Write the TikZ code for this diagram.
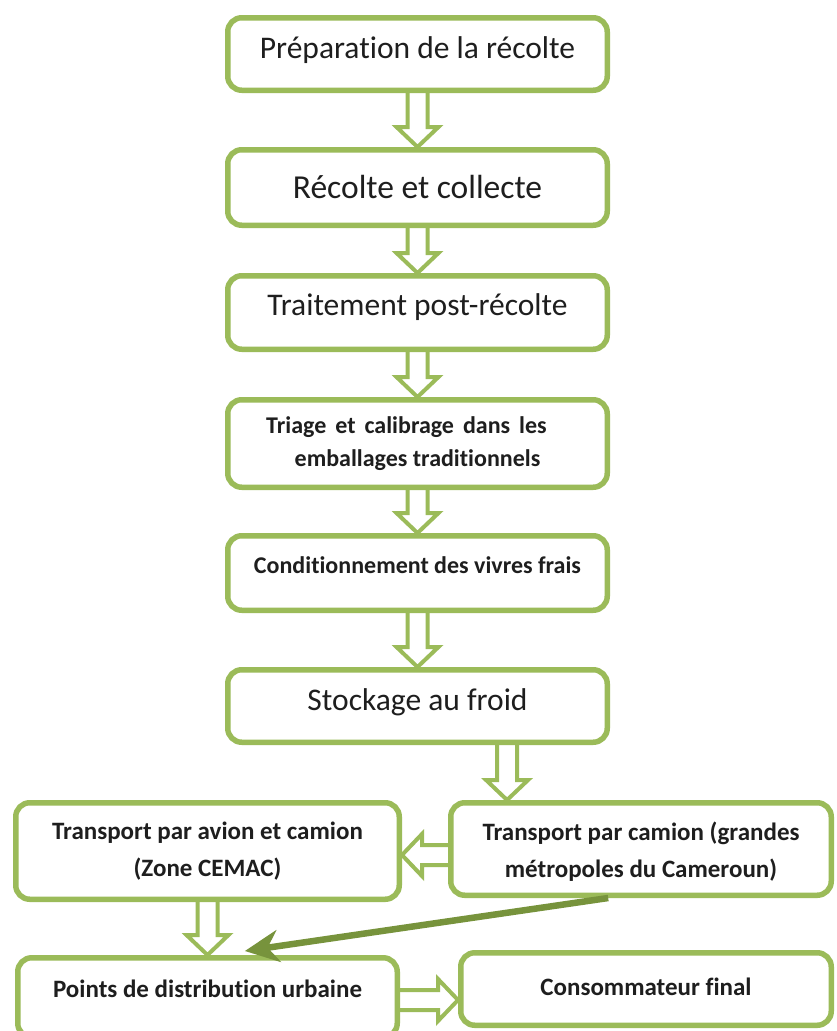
\documentclass[tikz,border=0pt]{standalone}
\usepackage{fontspec}
\setmainfont{Carlito}[Ligatures=NoCommon]
\usetikzlibrary{calc,arrows.meta,backgrounds}
\definecolor{boxgreen}{HTML}{9BBB59}
\definecolor{darkgreen}{HTML}{77933C}
\definecolor{txtcol}{HTML}{1E1E1E}
\newcommand{\wsp}{\hspace{9pt}}
\tikzset{
  box/.style={draw=boxgreen, line width=5.5pt, rounded corners=14pt, fill=white, inner sep=0pt},
  bigtxt/.style={text=txtcol, font=\fontsize{31.5pt}{38pt}\selectfont},
  boldtxt/.style={text=txtcol, align=center, font=\bfseries\fontsize{24pt}{33pt}\selectfont},
  bottxt/.style={text=txtcol, align=center, font=\bfseries\fontsize{25pt}{37pt}\selectfont},
  barrow/.style={draw=boxgreen, line width=4pt, fill=white, line join=miter, miter limit=10,
    to path={let \p1=(\tikztostart), \p2=(\tikztotarget),
      \n1={atan2(\y2-\y1,\x2-\x1)}, \n2={veclen(\x2-\x1,\y2-\y1)} in
      ([shift={(\p1)},rotate=\n1]-6pt,10pt) -- ([shift={(\p1)},rotate=\n1]\n2-20pt,10pt)
      -- ([shift={(\p1)},rotate=\n1]\n2-20pt,21pt) -- (\p2)
      -- ([shift={(\p1)},rotate=\n1]\n2-20pt,-21pt) -- ([shift={(\p1)},rotate=\n1]\n2-20pt,-10pt)
      -- ([shift={(\p1)},rotate=\n1]-6pt,-10pt) -- cycle}},
  linearrow/.style={draw=darkgreen, line width=6.5pt, -{Stealth[length=34pt,width=32pt,inset=11pt]}}
}
\begin{document}
\begin{tikzpicture}[x=1pt,y=-1pt]
\useasboundingbox (0,0) rectangle (836,1031);

% main column
\node[box, minimum width=379.5pt, minimum height=72.5pt,
  label={[bigtxt, yshift=4pt]center:Préparation de la récolte}] (b1) at (417.5,54) {};
\node[box, minimum width=379.5pt, minimum height=75.5pt,
  label={[bigtxt, font=\fontsize{33.5pt}{40pt}\selectfont, yshift=0.5pt]center:Récolte et collecte}] (b2) at (417.5,187.5) {};
\node[box, minimum width=379.5pt, minimum height=73.5pt,
  label={[bigtxt, yshift=5.5pt]center:Traitement post-récolte}] (b3) at (417.5,312.5) {};
\node[box, minimum width=379.5pt, minimum height=87.5pt,
  label={[boldtxt]center:{Triage\wsp et\wsp calibrage\wsp dans\wsp les\hspace*{22pt}\\emballages traditionnels}}] (b4) at (417.5,443.5) {};
\node[box, minimum width=379.5pt, minimum height=74.5pt,
  label={[boldtxt, yshift=8pt]center:Conditionnement des vivres frais}] (b5) at (417.5,573) {};
\node[box, minimum width=379.5pt, minimum height=72.5pt,
  label={[bigtxt, yshift=4pt]center:Stockage au froid}] (b6) at (417.5,706) {};

% lower part
\node[box, minimum width=380.5pt, minimum height=92.5pt,
  label={[bottxt, yshift=-2.5pt]center:{Transport par camion (grandes\\métropoles du Cameroun)}}] (b7) at (641,849) {};
\node[box, minimum width=383.5pt, minimum height=96.5pt,
  label={[bottxt]center:{Transport par avion et camion\\(Zone CEMAC)}}] (b8) at (207.5,851) {};
\node[box, minimum width=379.5pt, minimum height=79.5pt,
  label={[bottxt, yshift=8.5pt]center:Points de distribution urbaine}] (b9) at (207.5,997.5) {};
\node[box, minimum width=370.5pt, minimum height=72.5pt,
  label={[bottxt, yshift=2pt]center:Consommateur final}] (b10) at (646,989) {};

% helper coordinates on the boxes
\coordinate (t67) at ($(b7.north west)!0.153!(b7.north east)$);
\coordinate (s78) at ([yshift=-6pt]b7.west);
\coordinate (s910) at ([yshift=-2.5pt]b9.east);
\coordinate (s79) at ($(b7.south west)!0.415!(b7.south east)$);
\coordinate (t79) at ([yshift=4pt]$(b9.north west)!0.597!(b9.north east)$);

\begin{scope}[on background layer]
  \draw[barrow] (b1.south) to (b2.north);
  \draw[barrow] (b2.south) to (b3.north);
  \draw[barrow] (b3.south) to (b4.north);
  \draw[barrow] (b4.south) to (b5.north);
  \draw[barrow] (b5.south) to (b6.north);
  \draw[barrow] (b6.south -| t67) to (t67);
  \draw[barrow] (s78) to (b8.east |- s78);
  \draw[barrow] (b8.south) to (b9.north);
  \draw[barrow] (s910) to (b10.west |- s910);
\end{scope}

\draw[linearrow] (s79) -- (t79);
\end{tikzpicture}
\end{document}
